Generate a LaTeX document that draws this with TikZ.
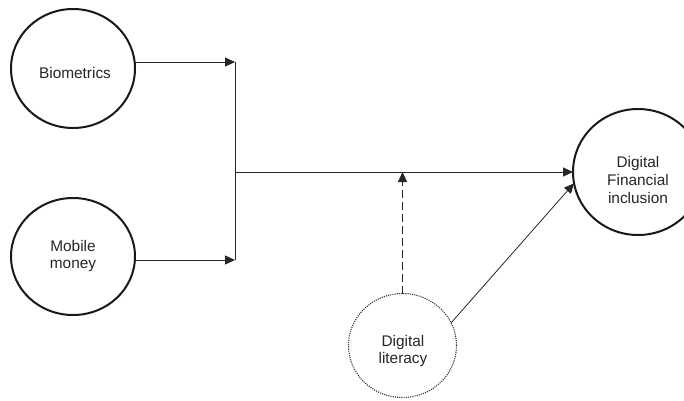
\documentclass[tikz,border=0pt]{standalone}
\usepackage{fontspec}
\setmainfont{Liberation Sans}
\usetikzlibrary{arrows.meta,shapes.geometric}
\begin{document}
\begin{tikzpicture}[x=1pt,y=-1pt,
  concept/.style={ellipse,draw=black!90,line width=2pt,inner sep=0pt,outer sep=0pt},
  moder/.style={ellipse,draw=black!80,line width=1.1pt,dash pattern=on 1.1pt off 1.1pt,inner sep=0pt,outer sep=0pt},
  txt/.style={align=center,inner sep=0pt,font=\fontsize{15.4}{17.8}\selectfont,text=black!85},
  link/.style={line width=1pt,draw=black!85,-{Triangle[length=10pt,width=9pt]}},
  plain/.style={line width=1pt,draw=black!85}]
\useasboundingbox (0,0) rectangle (684,400);
\node[concept,minimum width=124pt,minimum height=119pt] (bio) at (73,68.5) {};
\node[concept,minimum width=124pt,minimum height=117pt] (mob) at (73,256.5) {};
\node[concept,minimum width=130pt,minimum height=126pt] (dfi) at (638,172) {};
\node[moder,minimum width=108pt,minimum height=104pt] (dl) at (402.5,345.5) {};
\node[txt] (biot) at (75,73) {Biometrics};
\node[txt] (mobt) at (73,256) {Mobile\\money};
\node[txt] (dfit) at (638,180) {Digital\\Financial\\inclusion};
\node[txt] (dlt) at (403,351) {Digital\\literacy};
\coordinate (j1) at (235,62);
\coordinate (j2) at (235,260);
\coordinate (j3) at (235,172);
\draw[link] (bio.east |- j1) -- (j1);
\draw[link] (mob.east |- j2) -- (j2);
\draw[plain] (j1) -- (j2);
\draw[link] (j3) -- (j3 -| dfi.west);
\draw[link,dash pattern=on 8pt off 4pt] (dl.north) -- (dl.north |- j3);
\draw[line width=0.8pt,draw=black!85,-{Triangle[length=10pt,width=9pt]}] (dl.25) -- (dfi.190);
\end{tikzpicture}
\end{document}
